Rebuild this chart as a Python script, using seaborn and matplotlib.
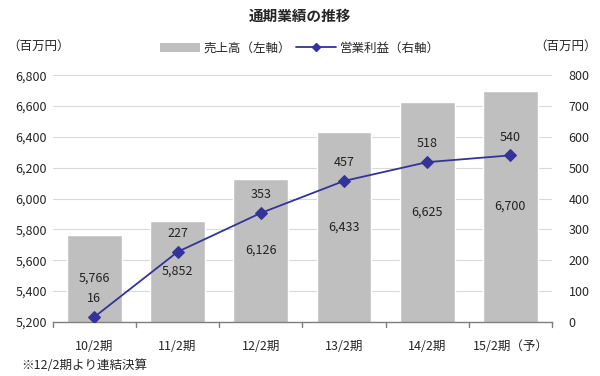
import numpy as np
import pandas as pd
import matplotlib.pyplot as plt
import seaborn as sns
from matplotlib.lines import Line2D
from matplotlib.patches import Patch

periods = ['10/2期', '11/2期', '12/2期', '13/2期', '14/2期', '15/2期（予）']
sales = [5766, 5852, 6126, 6433, 6625, 6700]
op_income = [16, 227, 353, 457, 518, 540]

sns.set_theme(style='white')
plt.rcParams['font.family'] = ['Noto Sans CJK JP', 'DejaVu Sans']

df = pd.DataFrame({'period': periods, 'sales': sales, 'op': op_income})

fig = plt.figure(figsize=(6, 3.76), dpi=100)
ax = fig.add_axes([0.088, 0.144, 0.832, 0.656])

sns.barplot(data=df, x='period', y='sales', color='#bfbfbf', width=0.66,
            saturation=1, ax=ax, zorder=2)
ax.set_ylim(5200, 6800)
ax.set_yticks(np.arange(5200, 6801, 200))
ax.set_yticklabels([f'{v:,}' for v in range(5200, 6801, 200)], fontsize=9)
ax.yaxis.grid(True, color='#d9d9d9', linewidth=0.8, zorder=0)
ax.set_axisbelow(True)
ax.set_xlabel('')
ax.set_ylabel('')
ax.set_xlim(-0.5, 5.5)
ax.tick_params(axis='x', labelsize=9, length=0, pad=13)
ax.tick_params(axis='y', length=0, pad=4)
for s in ['top', 'left', 'right']:
    ax.spines[s].set_visible(False)
ax.spines['bottom'].set_color('#7f7f7f')
ax.spines['bottom'].set_linewidth(1.0)
# category separator ticks on bottom axis
for b in np.arange(-0.5, 6.0, 1.0):
    ax.plot([b, b], [5200, 5165], color='#7f7f7f', lw=1.0, clip_on=False, zorder=3)

for i, v in enumerate(sales):
    ax.text(i, (5200 + v) / 2, f'{v:,}', ha='center', va='center', fontsize=9,
            color='#222222', zorder=4)

ax2 = ax.twinx()
sns.lineplot(x=np.arange(len(periods)), y=op_income, ax=ax2, color='#333399',
             marker='D', markersize=6, linewidth=1.3, markeredgecolor='#333399',
             zorder=5)
ax2.set_ylim(0, 800)
ax2.set_yticks(np.arange(0, 801, 100))
ax2.set_yticklabels([str(v) for v in range(0, 801, 100)], fontsize=9)
ax2.tick_params(axis='y', length=0, pad=12)
for s in ['top', 'left', 'right', 'bottom']:
    ax2.spines[s].set_visible(False)
ax2.set_xlim(-0.5, 5.5)

for i, v in enumerate(op_income):
    ax2.text(i, v + 38, str(v), ha='center', va='bottom', fontsize=9,
             color='#222222', zorder=6)

fig.text(0.5, 0.958, '通期業績の推移', ha='center', va='center', fontsize=10.5,
         fontweight='bold')
fig.text(0.012, 0.878, '（百万円）', ha='left', va='center', fontsize=9)
fig.text(0.995, 0.878, '（百万円）', ha='right', va='center', fontsize=9)
fig.text(0.035, 0.028, '※12/2期より連結決算', ha='left', va='center', fontsize=9)

handles = [Patch(facecolor='#bfbfbf', edgecolor='none'),
           Line2D([0], [0], color='#333399', marker='D', markersize=4, lw=1.3)]
fig.legend(handles, ['売上高（左軸）', '営業利益（右軸）'], loc='center',
           bbox_to_anchor=(0.5, 0.872), ncol=2, frameon=False, fontsize=9,
           handlelength=3.2, handletextpad=0.3, columnspacing=0.4)

fig.savefig('out.png', dpi=100)
